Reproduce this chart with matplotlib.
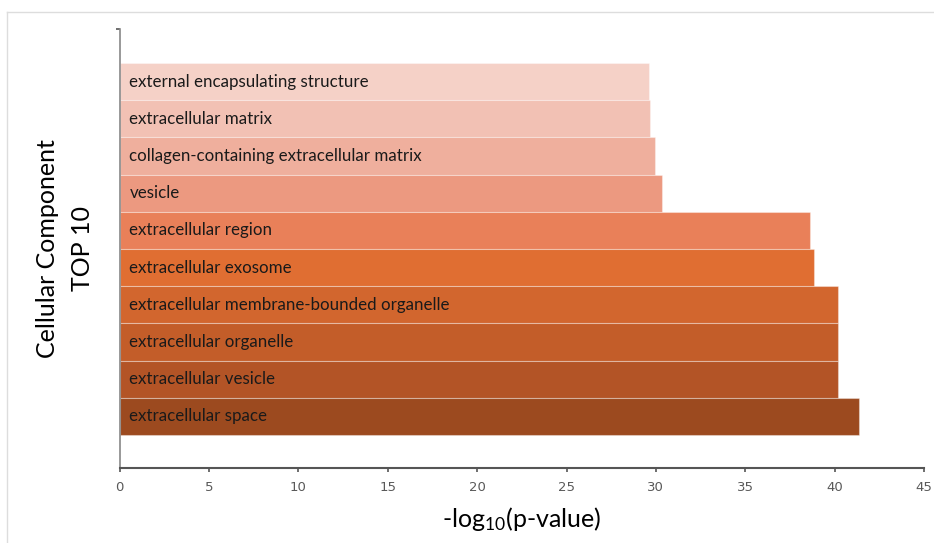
import matplotlib.pyplot as plt
from matplotlib.lines import Line2D

plt.rcParams["mathtext.fontset"] = "custom"
plt.rcParams["mathtext.rm"] = "Lato"
plt.rcParams["mathtext.it"] = "Lato:italic"

# GO cellular component terms, top to bottom as drawn
terms = [
    "external encapsulating structure",
    "extracellular matrix",
    "collagen-containing extracellular matrix",
    "vesicle",
    "extracellular region",
    "extracellular exosome",
    "extracellular membrane-bounded organelle",
    "extracellular organelle",
    "extracellular vesicle",
    "extracellular space",
]
neg_log_p = [29.63, 29.68, 29.97, 30.34, 38.62, 38.86, 40.18, 40.18, 40.20, 41.37]
bar_colors = ["#F5D1C7", "#F2C1B4", "#EFAF9D", "#EC9980", "#E98059",
              "#E06E32", "#D2662E", "#C35D29", "#B35426", "#9C4A1F"]
xticks = [0, 5, 10, 15, 20, 25, 30, 35, 40, 45]

fig = plt.figure(figsize=(9.34, 5.43), dpi=100)
ax = fig.add_axes([0.1282, 0.1381, 0.8611, 0.8085])

n = len(terms)
ypos = [n - 1 - i for i in range(n)]
ax.barh(ypos, neg_log_p, height=1.0, color=bar_colors,
        edgecolor=(1, 1, 1, 0.35), linewidth=0.8)

for y, t in zip(ypos, terms):
    ax.annotate(t, (0, y), xytext=(7, 0), textcoords="offset points",
                va="center", ha="left", fontsize=12.2, color="#1a1a1a",
                family=["Lato", "DejaVu Sans"])

ax.set_xlim(0, 45)
ax.set_ylim(-1.387, 10.414)
ax.set_xticks(xticks)
ax.set_yticks([10.414])
ax.set_yticklabels([])
for lab in ax.get_xticklabels():
    lab.set_family(["Liberation Sans Narrow", "DejaVu Sans"])
ax.tick_params(axis="x", direction="out", length=3, width=1.2, color="#555555",
               labelsize=9.5, labelcolor="#595959", pad=6)
ax.tick_params(axis="y", direction="out", length=3, width=1.2, color="#555555")

for s in ["top", "right"]:
    ax.spines[s].set_visible(False)
ax.spines["bottom"].set_color("#555555")
ax.spines["bottom"].set_linewidth(1.5)
ax.spines["left"].set_color("#888888")
ax.spines["left"].set_linewidth(1.2)

ax.set_xlabel("-log$_{10}$(p-value)", fontsize=18, family=["Lato", "DejaVu Sans"],
              labelpad=8)
ax.set_ylabel("Cellular Component\nTOP 10", fontsize=18, family=["Lato", "DejaVu Sans"],
              labelpad=12, linespacing=1.65)

# faint frame of the original screenshot
fig.add_artist(Line2D([7 / 934, 1], [1 - 12 / 543, 1 - 12 / 543],
                      transform=fig.transFigure, color="#dddddd", lw=1))
fig.add_artist(Line2D([7 / 934, 7 / 934], [0, 1 - 12 / 543],
                      transform=fig.transFigure, color="#dddddd", lw=1))

fig.savefig("out.png", dpi=100)
